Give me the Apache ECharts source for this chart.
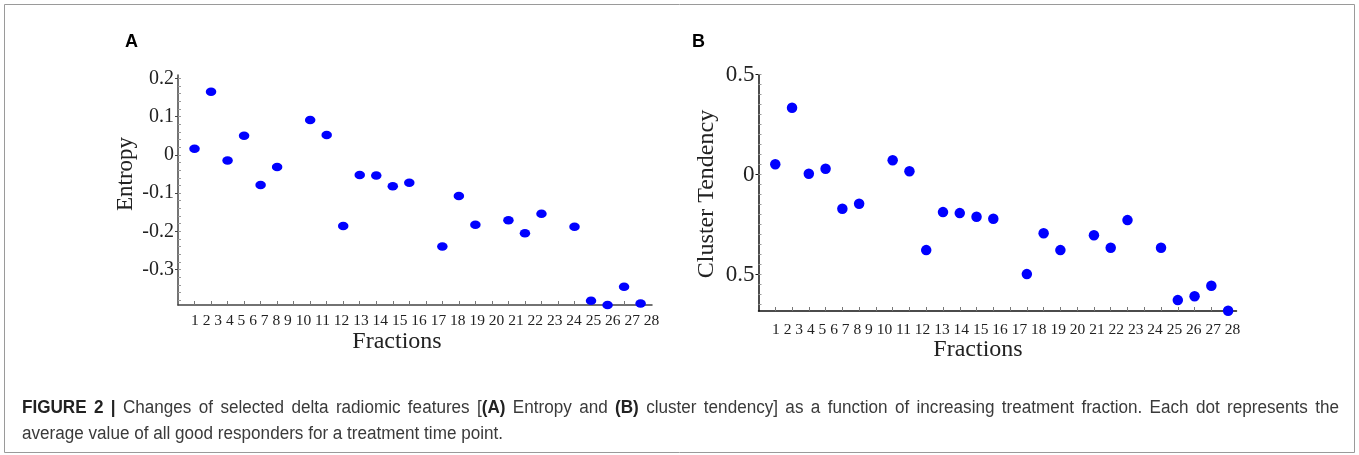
<!DOCTYPE html>
<html>
<head>
<meta charset="utf-8">
<title>Figure 2</title>
<script src="https://cdn.jsdelivr.net/npm/echarts@6/dist/echarts.min.js"></script>
<style>
  html, body { margin: 0; padding: 0; background: #fff; }
  #main { width: 1359px; height: 455px; }
</style>
</head>
<body>
<div id="main"></div>
<script>
(function() {
  'use strict';
  var echarts = window.echarts;

  // x axis: 28 treatment fractions
  var fractionLabels = ['1', '2', '3', '4', '5', '6', '7', '8', '9', '10', '11', '12', '13', '14',
    '15', '16', '17', '18', '19', '20', '21', '22', '23', '24', '25', '26', '27', '28'];
  var fractionTicks = [1, 2, 3, 4, 5, 6, 7, 8, 9, 10, 11, 12, 13, 14,
    15, 16, 17, 18, 19, 20, 21, 22, 23, 24, 25, 26, 27, 28];

  // tick positions that carry a dot (same in both panels)
  var dotFractions = [1, 2, 3, 4, 5, 6, 8, 9, 10, 11, 12, 13, 14, 16, 17, 18, 20, 21, 22, 24, 25, 26, 27, 28];

  // panel A  - entropy
  var entropy = [0.016, 0.165, -0.015, 0.050, -0.079, -0.032, 0.091, 0.052, -0.186, -0.053, -0.054, -0.082,
    -0.073, -0.240, -0.108, -0.183, -0.171, -0.205, -0.154, -0.188, -0.382, -0.393, -0.345, -0.389];
  var entropyTicks = [0.2, 0.1, 0, -0.1, -0.2, -0.3];
  var entropyLabels = ['0.2', '0.1', '0', '-0.1', '-0.2', '-0.3'];

  // panel B  - cluster tendency
  var cluster = [0.052, 0.335, 0.005, 0.030, -0.170, -0.145, 0.072, 0.017, -0.377, -0.187, -0.192, -0.210,
    -0.220, -0.497, -0.293, -0.377, -0.303, -0.365, -0.227, -0.365, -0.627, -0.608, -0.555, -0.680];
  var clusterTicks = [0.5, 0, -0.5];
  var clusterLabels = ['0.5', '0', '0.5'];   // as printed in the figure

  // caption, *...* = bold
  var caption1 = '*FIGURE 2 |* Changes of selected delta radiomic features [*(A)* Entropy and *(B)* cluster tendency] as a function of increasing treatment fraction. Each dot represents the';
  var caption2 = 'average value of all good responders for a treatment time point.';

  var serif = '"Liberation Serif", "DejaVu Serif", serif';
  var sans = '"Liberation Sans", Arial, sans-serif';

  function pairs(xs, ys) {
    return xs.map(function(x, i) { return [x, ys[i]]; });
  }

  function minorList(min, max, step) {
    var out = [];
    for (var v = Math.ceil(min / step) * step; v <= max + 1e-9; v += step) {
      out.push(+v.toFixed(4));
    }
    return out;
  }

  function xAxisOf(gi, max, color) {
    return {
      type: 'value', gridIndex: gi, min: 0, max: max,
      axisLine: { show: true, onZero: false, lineStyle: { color: color, width: 1.5 } },
      axisTick: { show: true, inside: true, length: 4, customValues: fractionTicks, lineStyle: { color: '#777' } },
      axisLabel: { show: false },
      splitLine: { show: false }
    };
  }

  function yAxesOf(gi, min, max, ticks, labels, step, size, color) {
    return [{
      type: 'value', gridIndex: gi, min: min, max: max, position: 'left',
      axisLine: { show: true, onZero: false, lineStyle: { color: color, width: 1.5 } },
      axisTick: { show: true, inside: false, length: 3, customValues: ticks, lineStyle: { color: color } },
      axisLabel: {
        show: true, customValues: ticks, margin: 4,
        fontFamily: serif, fontSize: size, color: '#222',
        formatter: function(v) {
          for (var i = 0; i < ticks.length; i++) {
            if (Math.abs(ticks[i] - v) < 1e-6) { return labels[i]; }
          }
          return '';
        }
      },
      splitLine: { show: false }
    }, {
      type: 'value', gridIndex: gi, min: min, max: max, position: 'left',
      axisLine: { show: false, onZero: false },
      axisTick: { show: true, inside: true, length: 3, customValues: minorList(min, max, step), lineStyle: { color: '#999' } },
      axisLabel: { show: false },
      splitLine: { show: false }
    }];
  }

  // --- caption: slightly condensed sans (scaleX), first line justified
  var ctx = document.createElement('canvas').getContext('2d');
  function measure(str, font) {
    ctx.font = font;
    return ctx.measureText(str).width;
  }

  function splitWords(s) {
    var words = [], cur = [], buf = '', bold = false;
    function flushBuf() { if (buf) { cur.push([buf, bold]); buf = ''; } }
    for (var i = 0; i < s.length; i++) {
      var c = s.charAt(i);
      if (c === '*') { flushBuf(); bold = !bold; }
      else if (c === ' ') { flushBuf(); if (cur.length) { words.push(cur); cur = []; } }
      else { buf += c; }
    }
    flushBuf();
    if (cur.length) { words.push(cur); }
    return words;
  }

  var CAP_SIZE = 18;
  var CAP_SX = 0.95;

  function captionLine(s, x0, y, width, justify) {
    var fontN = CAP_SIZE + 'px ' + sans;
    var fontB = 'bold ' + CAP_SIZE + 'px ' + sans;
    var words = splitWords(s);
    var widths = words.map(function(w) {
      return w.reduce(function(acc, p) { return acc + measure(p[0], p[1] ? fontB : fontN) * CAP_SX; }, 0);
    });
    var total = widths.reduce(function(a, b) { return a + b; }, 0);
    var gap = justify ? (width - total) / (words.length - 1) : measure(' ', fontN) * CAP_SX;
    var els = [];
    var x = x0;
    words.forEach(function(w, i) {
      var px = x;
      w.forEach(function(p) {
        var f = p[1] ? fontB : fontN;
        els.push({ type: 'text', x: px, y: y, scaleX: CAP_SX, silent: true,
          style: { text: p[0], font: f, fill: p[1] ? '#222' : '#3a3a3a', textVerticalAlign: 'middle' } });
        px += measure(p[0], f) * CAP_SX;
      });
      x += widths[i] + gap;
    });
    return els;
  }

  var chart = echarts.init(document.getElementById('main'), null, { renderer: 'canvas' });

  var yA = yAxesOf(0, -0.393, 0.209, entropyTicks, entropyLabels, 0.02, 20, '#444');
  var yB = yAxesOf(1, -0.6815, 0.5, clusterTicks, clusterLabels, 0.05, 23, '#111');

  var graphics = [
    // outer frame
    { type: 'rect', shape: { x: 4.5, y: 4.5, width: 1350, height: 448 },
      style: { fill: 'none', stroke: '#9a9a9a', lineWidth: 1 } },
    // panel letters
    { type: 'text', x: 125, y: 42, style: { text: 'A', font: 'bold 18px ' + sans, fill: '#000', textVerticalAlign: 'middle' } },
    { type: 'text', x: 692, y: 42, style: { text: 'B', font: 'bold 18px ' + sans, fill: '#000', textVerticalAlign: 'middle' } },
    // fraction numbers, typeset as one run of text like the original
    { type: 'text', x: 191, y: 321, style: { text: fractionLabels.join(' '), font: '15.5px ' + serif, fill: '#222', textVerticalAlign: 'middle' } },
    { type: 'text', x: 772, y: 330, style: { text: fractionLabels.join(' '), font: '15.5px ' + serif, fill: '#222', textVerticalAlign: 'middle' } },
    // axis titles
    { type: 'text', x: 397, y: 342, style: { text: 'Fractions', font: '24px ' + serif, fill: '#222', textAlign: 'center', textVerticalAlign: 'middle' } },
    { type: 'text', x: 978, y: 350, style: { text: 'Fractions', font: '24px ' + serif, fill: '#222', textAlign: 'center', textVerticalAlign: 'middle' } },
    { type: 'text', x: 126, y: 174, rotation: Math.PI / 2,
      style: { text: 'Entropy', font: '23px ' + serif, fill: '#222', textAlign: 'center', textVerticalAlign: 'middle' } },
    { type: 'text', x: 707, y: 194, rotation: Math.PI / 2,
      style: { text: 'Cluster Tendency', font: '24px ' + serif, fill: '#222', textAlign: 'center', textVerticalAlign: 'middle' } }
  ];
  graphics = graphics.concat(captionLine(caption1, 22, 408, 1317, true));
  graphics = graphics.concat(captionLine(caption2, 22, 434, 1317, false));

  var option = {
    animation: false,
    backgroundColor: '#fff',
    grid: [
      { left: 178, top: 75, width: 474, height: 230 },
      { left: 758.5, top: 74.7, width: 478, height: 236.3 }
    ],
    xAxis: [xAxisOf(0, 28.69, '#444'), xAxisOf(1, 28.5, '#111')],
    yAxis: [yA[0], yA[1], yB[0], yB[1]],
    series: [{
      name: 'Entropy', type: 'scatter', xAxisIndex: 0, yAxisIndex: 0,
      symbol: 'circle', symbolSize: [10.5, 8.5], clip: false,
      itemStyle: { color: '#0000ff', opacity: 1 },
      data: pairs(dotFractions, entropy)
    }, {
      name: 'Cluster Tendency', type: 'scatter', xAxisIndex: 1, yAxisIndex: 2,
      symbol: 'circle', symbolSize: 10.5, clip: false,
      itemStyle: { color: '#0000ff', opacity: 1 },
      data: pairs(dotFractions, cluster)
    }],
    graphic: graphics
  };

  chart.setOption(option);
}());
</script>
</body>
</html>
